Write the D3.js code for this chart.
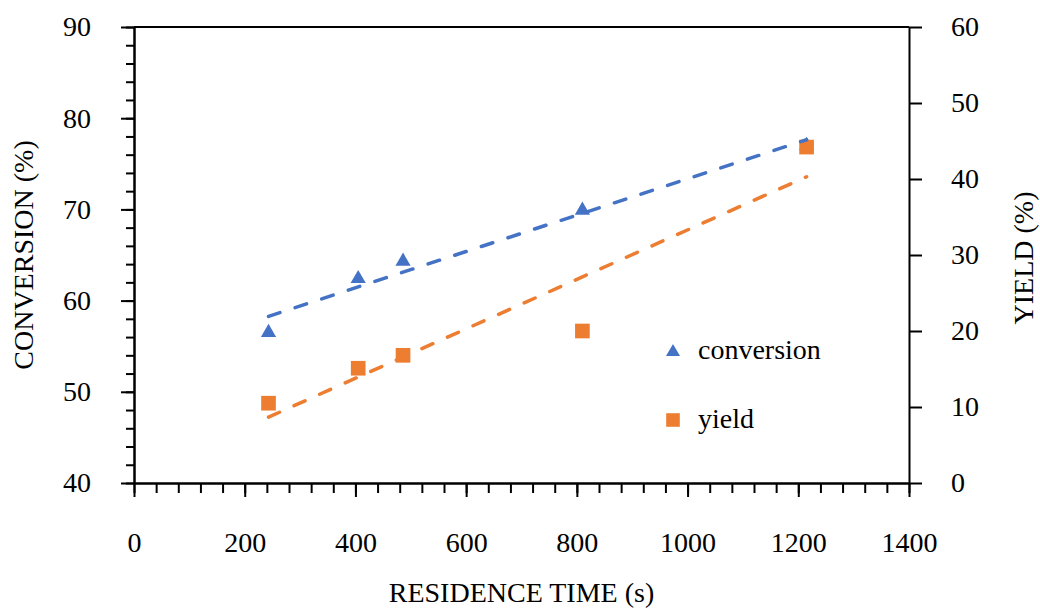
<!DOCTYPE html>
<html>
<head>
<meta charset="utf-8">
<script src="https://cdn.jsdelivr.net/npm/d3@7"></script>
<style>
  html, body { margin: 0; padding: 0; background: #fff; }
  svg { display: block; }
  svg text { font-family: "Liberation Serif", "Times New Roman", Times, "DejaVu Serif", "Noto Serif", serif !important; fill: #000; }
</style>
</head>
<body>
<svg id="chart" width="1040" height="608"></svg>
<script>
// ---- data ----
const residenceTime = [243, 405, 486, 810, 1215];
const conversion = [56.5, 62.4, 64.3, 69.9, 77.0];
const yieldPct = [10.5, 15.1, 16.8, 20.0, 44.2];
const xTicks = [0, 200, 400, 600, 800, 1000, 1200, 1400];
const leftTicks = [40, 50, 60, 70, 80, 90];
const rightTicks = [0, 10, 20, 30, 40, 50, 60];
const seriesNames = ["conversion", "yield"];
const colors = ["#4472C4", "#ED7D31"];

// ---- layout ----
const svg = d3.select("#chart");
const L = 134, R = 909, T = 27, B = 483;
const FS = 28;
const FONT = '"Liberation Serif", "Times New Roman", Times, "DejaVu Serif", serif';

const x = d3.scaleLinear().domain([0, 1400]).range([L, R]);
const yL = d3.scaleLinear().domain([40, 90]).range([B, T]);
const yR = d3.scaleLinear().domain([0, 60]).range([B, T]);
const fmt = d3.format("d");

function styleAxis(g) {
  g.attr("font-family", FONT).attr("font-size", FS);
  g.select(".domain").attr("stroke", "#000").attr("stroke-width", 2);
  g.selectAll(".tick line").attr("stroke", "#000").attr("stroke-width", 2);
  g.selectAll("text").attr("fill", "#000");
}

// top border
svg.append("line").attr("x1", L).attr("x2", R).attr("y1", T).attr("y2", T)
  .attr("stroke", "#000").attr("stroke-width", 2);

// x minor ticks
svg.append("g").attr("transform", `translate(0,${B})`)
  .call(d3.axisBottom(x).tickValues(d3.range(0, 1401, 40)).tickSize(10).tickSizeOuter(0).tickFormat(""))
  .call(styleAxis);
// x major
const gx = svg.append("g").attr("transform", `translate(0,${B})`)
  .call(d3.axisBottom(x).tickValues(xTicks).tickSize(14).tickSizeOuter(0).tickFormat(fmt))
  .call(styleAxis);
gx.selectAll("text").attr("dy", null).attr("y", 69);

// left minor
svg.append("g").attr("transform", `translate(${L},0)`)
  .call(d3.axisLeft(yL).tickValues(d3.range(40, 91, 2)).tickSize(8).tickSizeOuter(0).tickFormat(""))
  .call(styleAxis);
// left major
svg.append("g").attr("transform", `translate(${L},0)`)
  .call(d3.axisLeft(yL).tickValues(leftTicks).tickSize(13).tickSizeOuter(0).tickPadding(30).tickFormat(fmt))
  .call(styleAxis);
// right
svg.append("g").attr("transform", `translate(${R},0)`)
  .call(d3.axisRight(yR).tickValues(rightTicks).tickSize(13).tickSizeOuter(0).tickPadding(29).tickFormat(fmt))
  .call(styleAxis);

// axis titles
const titles = svg.append("g").attr("font-family", FONT).attr("font-size", FS);
titles.append("text").attr("x", (L + R) / 2).attr("y", 602).attr("text-anchor", "middle")
  .text("RESIDENCE TIME (s)");
titles.append("text").attr("transform", `translate(33,${(T + B) / 2}) rotate(-90)`).attr("text-anchor", "middle")
  .text("CONVERSION (%)");
titles.append("text").attr("transform", `translate(1033,${(T + B) / 2 + 3}) rotate(-90)`).attr("text-anchor", "middle")
  .text("YIELD (%)");

// ---- markers ----
const tri = d3.symbol().type(d3.symbolTriangle).size(100);
const sq = d3.symbol().type(d3.symbolSquare).size(215);

svg.append("g").selectAll("path").data(residenceTime).join("path")
  .attr("d", tri).attr("fill", colors[0])
  .attr("transform", (d, i) => `translate(${x(d)},${yL(conversion[i])})`);
svg.append("g").selectAll("path").data(residenceTime).join("path")
  .attr("d", sq).attr("fill", colors[1])
  .attr("transform", (d, i) => `translate(${x(d)},${yR(yieldPct[i])})`);

// ---- linear trendlines (least squares) ----
function fit(xs, ys) {
  const mx = d3.mean(xs), my = d3.mean(ys);
  let sxy = 0, sxx = 0;
  xs.forEach((v, i) => { sxy += (v - mx) * (ys[i] - my); sxx += (v - mx) * (v - mx); });
  const m = sxy / sxx;
  return v => my + m * (v - mx);
}
const fC = fit(residenceTime, conversion);
const fY = fit(residenceTime, yieldPct);
const xExt = d3.extent(residenceTime);

svg.append("line")
  .attr("x1", x(xExt[0])).attr("y1", yL(fC(xExt[0])))
  .attr("x2", x(xExt[1])).attr("y2", yL(fC(xExt[1])))
  .attr("stroke", colors[0]).attr("stroke-width", 3.5).attr("stroke-linecap", "round")
  .attr("stroke-dasharray", "12,16");
svg.append("line")
  .attr("x1", x(xExt[0])).attr("y1", yR(fY(xExt[0])))
  .attr("x2", x(xExt[1])).attr("y2", yR(fY(xExt[1])))
  .attr("stroke", colors[1]).attr("stroke-width", 3.5).attr("stroke-linecap", "round")
  .attr("stroke-dasharray", "12,16");

// ---- legend ----
const leg = svg.append("g").attr("font-family", FONT).attr("font-size", FS);
leg.append("path").attr("d", d3.symbol().type(d3.symbolTriangle).size(85)())
  .attr("fill", colors[0]).attr("transform", "translate(673,352)");
leg.append("text").attr("x", 698).attr("y", 359).text(seriesNames[0]);
leg.append("path").attr("d", d3.symbol().type(d3.symbolSquare).size(185)())
  .attr("fill", colors[1]).attr("transform", "translate(673,420)");
leg.append("text").attr("x", 698).attr("y", 428).text(seriesNames[1]);
</script>
</body>
</html>
